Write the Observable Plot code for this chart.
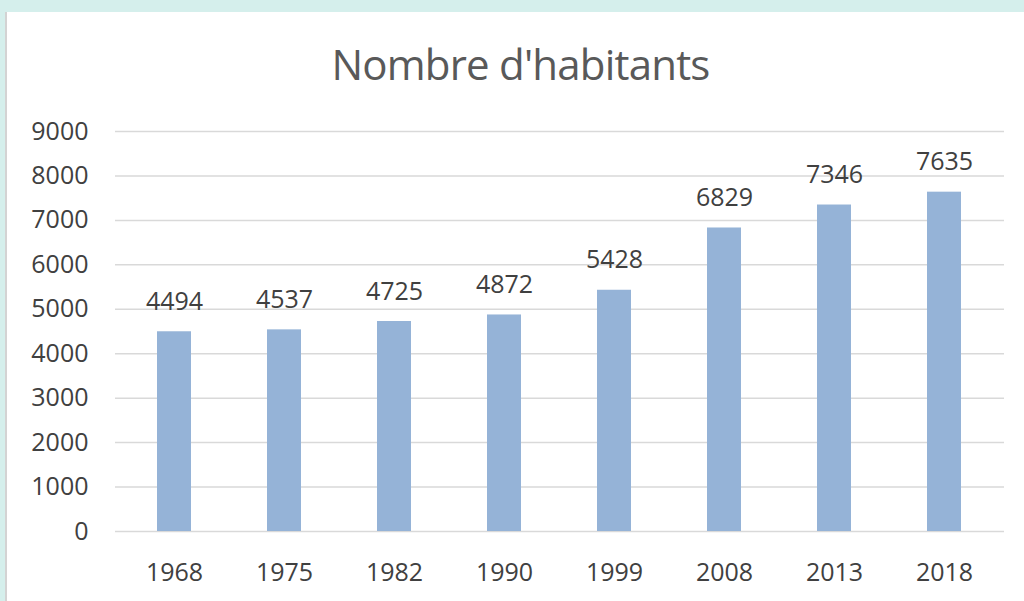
<!DOCTYPE html>
<html><head><meta charset="utf-8">
<script src="https://cdn.jsdelivr.net/npm/d3@7"></script>
<script src="https://cdn.jsdelivr.net/npm/@observablehq/plot@0.6"></script>
<style>
html,body{margin:0;padding:0;background:#d5efec;width:1024px;height:601px;overflow:hidden;font-family:"Open Sans",sans-serif}
#panel{position:absolute;left:5px;top:12px;right:0;bottom:0;background:#fff;border-left:2px solid #d3d3d3}
#title{position:absolute;left:0;width:1041px;top:43px;text-align:center;font-size:42px;line-height:42px;letter-spacing:-0.8px;color:#595959;white-space:nowrap}
#chart{position:absolute;left:0;top:100px}
</style></head>
<body>
<div id="panel"></div>
<div id="title">Nombre d'habitants</div>
<div id="chart"></div>
<script>
const years = ["1968","1975","1982","1990","1999","2008","2013","2018"];
const population = [4494,4537,4725,4872,5428,6829,7346,7635];
const yTicks = [0,1000,2000,3000,4000,5000,6000,7000,8000,9000];
const data = years.map((y,i)=>({year:y, value:population[i]}));

const chart = Plot.plot({
  width:1024, height:501,
  marginTop:31, marginBottom:70, marginLeft:115, marginRight:20,
  style:{background:"transparent", fontFamily:"Open Sans", fontSize:"25px", color:"#404040"},
  x:{type:"band", domain:years, paddingInner:0.69, paddingOuter:0.3675, label:null},
  y:{domain:[0,9000], label:null},
  marks:[
    Plot.ruleY(yTicks, {stroke:"#d9d9d9", strokeWidth:1.5}),
    Plot.barY(data, {x:"year", y:"value", fill:"#95b3d7"}),
    Plot.text(data, {x:"year", y:"value", text:d=>String(d.value), lineAnchor:"bottom", dy:-22, fill:"#404040", fontSize:25}),
    Plot.axisY(yTicks, {tickSize:0, tickPadding:27, label:null, tickFormat:d=>String(d), fill:"#404040", fontSize:25}),
    Plot.axisX({tickSize:0, tickPadding:32, label:null, fill:"#404040", fontSize:25})
  ]
});
document.getElementById("chart").appendChild(chart);
</script>
</body></html>
